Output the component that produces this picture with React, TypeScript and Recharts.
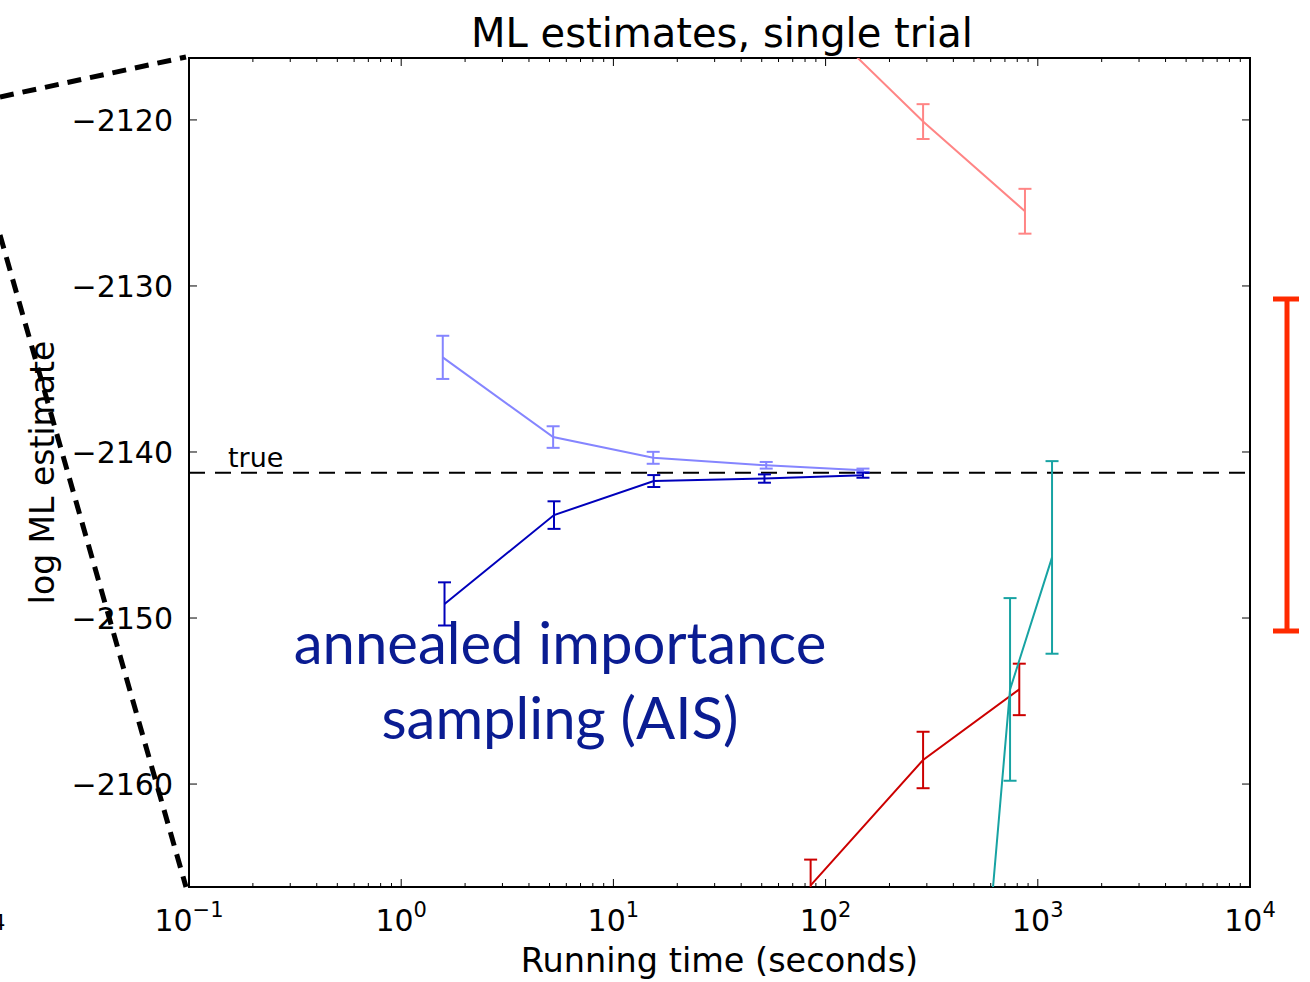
import React from 'react';
import { LineChart, Line, XAxis, YAxis, ErrorBar, ReferenceLine, ReferenceArea } from 'recharts';

// tick values
const xTicks = [
  0.1, 0.2, 0.3, 0.4, 0.5, 0.6, 0.7, 0.8, 0.9,
  1, 2, 3, 4, 5, 6, 7, 8, 9,
  10, 20, 30, 40, 50, 60, 70, 80, 90,
  100, 200, 300, 400, 500, 600, 700, 800, 900,
  1000, 2000, 3000, 4000, 5000, 6000, 7000, 8000, 9000,
  10000,
];
const yTicks = [-2160, -2150, -2140, -2130, -2120];
const trueValue = -2141.25;

// AIS (forward), dark blue
const aisTime = [1.6, 5.25, 15.5, 51.5, 150];
const aisEstimate = [-2149.15, -2143.8, -2141.75, -2141.6, -2141.4];
const aisError = [1.3, 0.83, 0.36, 0.25, 0.15];

// reverse AIS, light blue
const raisTime = [1.57, 5.2, 15.4, 52.5, 150];
const raisEstimate = [-2134.3, -2139.1, -2140.35, -2140.8, -2141.1];
const raisError = [1.3, 0.65, 0.36, 0.2, 0.1];

// pink series (first point is off the top of the plot, its error bar not visible)
const pinkTime = [85, 288, 870];
const pinkEstimate = [-2113.5, -2120.1, -2125.5];
const pinkError = [null, 1.05, 1.35];

// red series
const redTime = [85, 288, 818];
const redEstimate = [-2166.1, -2158.55, -2154.3];
const redError = [1.55, 1.7, 1.55];

// teal series (first point is off the bottom of the plot)
const tealTime = [535, 740, 1167];
const tealEstimate = [-2175.2, -2154.3, -2146.35];
const tealError = [null, 5.5, 5.8];

const zip = (t: number[], v: number[], e: (number | null)[]) =>
  t.map((x, i) => ({ t: x, v: v[i], e: e[i] }));

const W = 1310;
const H = 982;
const PLOT_LEFT = 189;
const PLOT_TOP = 58;
const PLOT_RIGHT = 1250;
const PLOT_BOTTOM = 887;
const FONT = '"DejaVu Sans", sans-serif';

const XTick = (props: any) => {
  const { x, payload } = props;
  const v = payload.value as number;
  const lg = Math.log10(v);
  const exp = Math.round(lg);
  const major = Math.abs(lg - exp) < 1e-6;
  const len = major ? 8 : 4;
  return (
    <g>
      <line x1={x} x2={x} y1={PLOT_BOTTOM} y2={PLOT_BOTTOM - len} stroke="#000" strokeWidth={1} />
      <line x1={x} x2={x} y1={PLOT_TOP} y2={PLOT_TOP + len} stroke="#000" strokeWidth={1} />
      {major && (
        <text x={x} y={PLOT_BOTTOM + 44} textAnchor="middle" fontFamily={FONT} fontSize={30} fill="#000">
          10
          <tspan dy={-14} fontSize={21}>{exp < 0 ? '\u2212' + Math.abs(exp) : String(exp)}</tspan>
        </text>
      )}
    </g>
  );
};

const YTick = (props: any) => {
  const { y, payload } = props;
  const v = payload.value as number;
  return (
    <g>
      <line x1={PLOT_LEFT} x2={PLOT_LEFT + 8} y1={y} y2={y} stroke="#000" strokeWidth={1} />
      <line x1={PLOT_RIGHT} x2={PLOT_RIGHT - 8} y1={y} y2={y} stroke="#000" strokeWidth={1} />
      <text x={PLOT_LEFT - 16} y={y} dy="0.36em" textAnchor="end" fontFamily={FONT} fontSize={30} fill="#000">
        {v < 0 ? '\u2212' + Math.abs(v) : String(v)}
      </text>
    </g>
  );
};

const series = [
  { key: 'rais', data: zip(raisTime, raisEstimate, raisError), color: '#8585ff' },
  { key: 'ais', data: zip(aisTime, aisEstimate, aisError), color: '#0000bb' },
  { key: 'pink', data: zip(pinkTime, pinkEstimate, pinkError), color: '#ff8585' },
  { key: 'red', data: zip(redTime, redEstimate, redError), color: '#cc0000' },
  { key: 'teal', data: zip(tealTime, tealEstimate, tealError), color: '#17a3a3' },
];

export default function App() {
  return (
    <div style={{ position: 'relative', width: W, height: H, background: '#fff' }}>
      <style>{`
        body{margin:0}
        .recharts-errorBars, .recharts-errorBar { clip-path: url(#plotClip); }
      `}</style>
      <svg width={0} height={0} style={{ position: 'absolute' }}>
        <defs>
          <clipPath id="plotClip" clipPathUnits="userSpaceOnUse">
            <rect x={PLOT_LEFT} y={PLOT_TOP} width={PLOT_RIGHT - PLOT_LEFT} height={PLOT_BOTTOM - PLOT_TOP} />
          </clipPath>
        </defs>
      </svg>
      <LineChart width={W} height={H} margin={{ top: PLOT_TOP, right: W - PLOT_RIGHT, bottom: 0, left: 0 }}>
        <XAxis
          dataKey="t"
          type="number"
          scale="log"
          domain={[0.1, 10000]}
          allowDataOverflow
          ticks={xTicks}
          interval={0}
          height={H - PLOT_BOTTOM}
          axisLine={false}
          tickLine={false}
          tick={<XTick />}
          label={{
            value: 'Running time (seconds)',
            position: 'center',
            dy: 26,
            style: { fontFamily: FONT, fontSize: 33.5, fill: '#000' },
          }}
        />
        <YAxis
          type="number"
          domain={[-2166.2, -2116.27]}
          allowDataOverflow
          ticks={yTicks}
          interval={0}
          width={PLOT_LEFT}
          axisLine={false}
          tickLine={false}
          tick={<YTick />}
          label={{
            value: 'log ML estimate',
            angle: -90,
            position: 'center',
            dx: -52,
            style: { fontFamily: FONT, fontSize: 33, fill: '#000', textAnchor: 'middle' },
          }}
        />
        <ReferenceLine
          y={trueValue}
          stroke="#000"
          strokeWidth={2}
          strokeDasharray="16 10"
          label={{
            value: 'true',
            position: 'insideTopLeft',
            dx: 34,
            dy: -30,
            style: { fontFamily: FONT, fontSize: 27, fill: '#000' },
          }}
        />
        {series.map((s) => (
          <Line
            key={s.key}
            data={s.data}
            dataKey="v"
            stroke={s.color}
            strokeWidth={2}
            dot={false}
            activeDot={false}
            isAnimationActive={false}
          >
            <ErrorBar dataKey="e" width={6.5} stroke={s.color} strokeWidth={2} />
          </Line>
        ))}
        <ReferenceArea
          x1={0.1}
          x2={10000}
          y1={-2166.2}
          y2={-2116.27}
          fill="none"
          fillOpacity={0}
          stroke="#000"
          strokeWidth={2}
        />
      </LineChart>
      <svg
        width={W}
        height={H}
        style={{ position: 'absolute', left: 0, top: 0, pointerEvents: 'none' }}
      >
        <text x={722} y={47} textAnchor="middle" fontFamily={FONT} fontSize={40} fill="#000">
          ML estimates, single trial
        </text>
        <line x1={0} y1={97} x2={186} y2={57} stroke="#000" strokeWidth={5} strokeDasharray="14 9" />
        <line x1={0} y1={235} x2={186} y2={887} stroke="#000" strokeWidth={5} strokeDasharray="14 9" />
        <text x={-8} y={930} fontFamily={FONT} fontSize={21} fill="#000">4</text>
        <g stroke="#ff2a00" strokeWidth={5}>
          <line x1={1287} x2={1287} y1={299} y2={631} />
          <line x1={1273} x2={1299} y1={299} y2={299} />
          <line x1={1273} x2={1299} y1={631} y2={631} />
        </g>
        <text textAnchor="middle" fontFamily='"Lato", "Open Sans", sans-serif' fontSize={58} fill="#0a1c92">
          <tspan x={560} y={664}>annealed importance</tspan>
          <tspan x={560} y={739}>sampling (AIS)</tspan>
        </text>
      </svg>
    </div>
  );
}
